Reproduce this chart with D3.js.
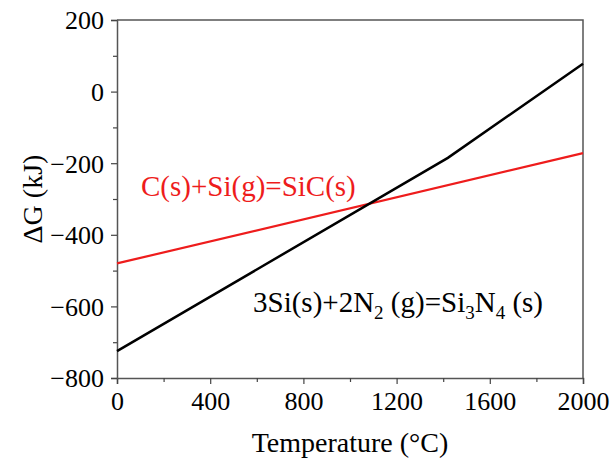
<!DOCTYPE html>
<html>
<head>
<meta charset="utf-8">
<script src="https://cdn.jsdelivr.net/npm/d3@7/dist/d3.min.js"></script>
<style>
  body { margin: 0; background: #fff; }
  svg { display: block; }
  text { font-family: "Liberation Serif", "Times New Roman", serif; }
</style>
</head>
<body>
<div id="vizcont"></div>
<script>
// data
var temps_si3n4 = [0, 1420, 2000];
var dg_si3n4 = [-725, -185, 78];
var temps_sic = [0, 2000];
var dg_sic = [-480, -172];
var xTicks = [0, 400, 800, 1200, 1600, 2000];
var xMinor = [200, 600, 1000, 1400, 1800];
var yTicks = [200, 0, -200, -400, -600, -800];
var yMinor = [100, -100, -300, -500, -700];

var margin = {top: 20, right: 31, bottom: 92, left: 117};
var width = 614 - margin.left - margin.right;
var height = 470 - margin.top - margin.bottom;

var svg = d3.select("#vizcont")
    .append("svg")
    .attr("width", 614)
    .attr("height", 470);

var g = svg.append("g")
    .attr("transform", "translate(" + margin.left + "," + margin.top + ")");

var x = d3.scaleLinear().domain([0, 2000]).range([0, width]);
var y = d3.scaleLinear().domain([-800, 200]).range([height, 0]);

// frame top + right
g.append("path")
    .attr("d", "M0,0H" + width + "V" + height)
    .attr("fill", "none")
    .attr("stroke", "#555")
    .attr("stroke-width", 1.5);

// x axis
var xAxis = g.append("g")
    .attr("transform", "translate(0," + height + ")")
    .call(d3.axisBottom(x).tickValues(xTicks).tickSize(6).tickPadding(6).tickFormat(d3.format("d")));
g.append("g")
    .attr("transform", "translate(0," + height + ")")
    .call(d3.axisBottom(x).tickValues(xMinor).tickSize(4).tickFormat(""))
    .select(".domain").remove();

// y axis
var yAxis = g.append("g")
    .call(d3.axisLeft(y).tickValues(yTicks).tickSize(6).tickPadding(7).tickFormat(function(d) {
        return d < 0 ? "\u2212" + Math.abs(d) : d;
    }));
g.append("g")
    .call(d3.axisLeft(y).tickValues(yMinor).tickSize(4).tickFormat(""))
    .select(".domain").remove();

xAxis.attr("font-family", "Liberation Serif").attr("font-size", 26);
yAxis.attr("font-family", "Liberation Serif").attr("font-size", 26);
g.selectAll(".domain").attr("stroke", "#555").attr("stroke-width", 1.5);
g.selectAll(".tick line").attr("stroke", "#444").attr("stroke-width", 1.2);
g.selectAll(".tick text")
    .attr("fill", "#000")
    .attr("font-family", "Liberation Serif")
    .attr("font-size", 26);
xAxis.selectAll(".tick text").attr("dy", "0.78em");
yAxis.selectAll(".tick text").attr("dy", "0.34em");

// lines
var line = d3.line()
    .x(function(d) { return x(d[0]); })
    .y(function(d) { return y(d[1]); });

g.append("path")
    .datum(d3.zip(temps_sic, dg_sic))
    .attr("fill", "none")
    .attr("stroke", "#ee1c1c")
    .attr("stroke-width", 2.2)
    .attr("d", line);

g.append("path")
    .datum(d3.zip(temps_si3n4, dg_si3n4))
    .attr("fill", "none")
    .attr("stroke", "#000")
    .attr("stroke-width", 2.5)
    .attr("d", line);

// axis titles
svg.append("text")
    .attr("x", 350)
    .attr("y", 452)
    .attr("text-anchor", "middle")
    .style("font-size", "28px")
    .text("Temperature (\u00B0C)");

svg.append("text")
    .attr("transform", "translate(42," + (margin.top + height / 2) + ") rotate(-90)")
    .attr("text-anchor", "middle")
    .style("font-size", "28px")
    .text("\u0394G (kJ)");

// reaction labels
svg.append("text")
    .attr("x", 141)
    .attr("y", 196)
    .attr("fill", "#ee1c1c")
    .style("font-size", "29px")
    .text("C(s)+Si(g)=SiC(s)");

var lbl = svg.append("text")
    .attr("x", 253)
    .attr("y", 312)
    .attr("fill", "#000")
    .style("font-size", "29px");
lbl.append("tspan").text("3Si(s)+2N");
lbl.append("tspan").attr("dy", 7).style("font-size", "19px").text("2");
lbl.append("tspan").attr("dy", -7).text(" (g)=Si");
lbl.append("tspan").attr("dy", 7).style("font-size", "19px").text("3");
lbl.append("tspan").attr("dy", -7).text("N");
lbl.append("tspan").attr("dy", 7).style("font-size", "19px").text("4");
lbl.append("tspan").attr("dy", -7).text(" (s)");
</script>
</body>
</html>
